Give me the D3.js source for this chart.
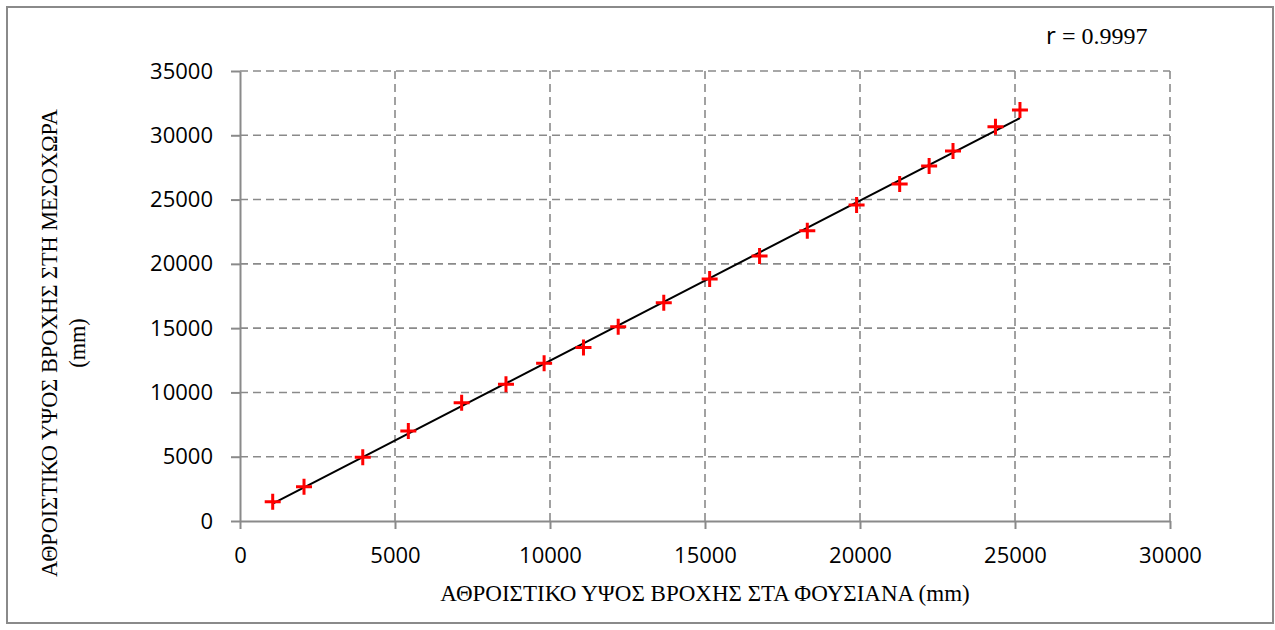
<!DOCTYPE html>
<html>
<head>
<meta charset="utf-8">
<script src="https://cdn.jsdelivr.net/npm/d3@7"></script>
<style>
  body { margin: 0; background: #fff; }
  svg { display: block; }
</style>
</head>
<body>
<svg id="chart" width="1275" height="630"></svg>
<script>
// cumulative rainfall, Fousiana (x) vs Mesochora (y), mm
const fousiana = [1055, 2065, 3960, 5430, 7150, 8580, 9810, 11080, 12200, 13670, 15150, 16760, 18300, 19890, 21280, 22230, 23000, 24370, 25160];
const mesochora = [1500, 2670, 4950, 7000, 9200, 10630, 12260, 13500, 15110, 16980, 18820, 20610, 22580, 24570, 26210, 27610, 28770, 30660, 31960];
const xTicks = [0, 5000, 10000, 15000, 20000, 25000, 30000];
const yTicks = [0, 5000, 10000, 15000, 20000, 25000, 30000, 35000];
const rLabel = '0.9997';

const width = 1275;
const height = 630;
const margin = { top: 71, right: 105, bottom: 109, left: 240 };
const innerWidth = width - margin.left - margin.right;
const innerHeight = height - margin.top - margin.bottom;

const svg = d3.select('#chart');

// outer frame
svg.append('rect')
  .attr('x', 7).attr('y', 7)
  .attr('width', 1266).attr('height', 616)
  .attr('fill', 'white')
  .attr('stroke', '#8a8a8a')
  .attr('stroke-width', 2);

const g = svg.append('g')
  .attr('transform', `translate(${margin.left},${margin.top})`);

const xScale = d3.scaleLinear().domain([0, 30000]).range([0, innerWidth]);
const yScale = d3.scaleLinear().domain([0, 35000]).range([innerHeight, 0]);

// dashed grid
g.append('g')
  .selectAll('line')
  .data(yTicks.slice(1))
  .join('line')
  .attr('x1', 0).attr('x2', innerWidth)
  .attr('y1', d => yScale(d)).attr('y2', d => yScale(d))
  .attr('stroke', '#8a8a8a')
  .attr('stroke-width', 1.6)
  .attr('stroke-dasharray', '8,5');

g.append('g')
  .selectAll('line')
  .data(xTicks.slice(1))
  .join('line')
  .attr('x1', d => xScale(d)).attr('x2', d => xScale(d))
  .attr('y1', 0).attr('y2', innerHeight)
  .attr('stroke', '#8a8a8a')
  .attr('stroke-width', 1.6)
  .attr('stroke-dasharray', '8,5');

// axes
const xAxis = g.append('g')
  .attr('transform', `translate(0,${innerHeight})`)
  .call(d3.axisBottom(xScale).tickValues(xTicks).tickSize(8).tickSizeOuter(0).tickPadding(18).tickFormat(d3.format('d')));

const yAxis = g.append('g')
  .call(d3.axisLeft(yScale).tickValues(yTicks).tickSize(9).tickSizeOuter(0).tickPadding(18).tickFormat(d3.format('d')));

[xAxis, yAxis].forEach(ax => {
  ax.select('.domain').attr('stroke', '#8a8a8a').attr('stroke-width', 2);
  ax.selectAll('.tick line').attr('stroke', '#8a8a8a').attr('stroke-width', 2);
  ax.selectAll('text')
    .attr('fill', '#000')
    .attr('font-family', '"Open Sans", sans-serif')
    .attr('font-size', '22px');
});

// least squares trend line
const n = fousiana.length;
const mx = d3.mean(fousiana);
const my = d3.mean(mesochora);
let sxy = 0, sxx = 0;
for (let i = 0; i < n; i++) {
  sxy += (fousiana[i] - mx) * (mesochora[i] - my);
  sxx += (fousiana[i] - mx) ** 2;
}
const slope = sxy / sxx;
const intercept = my - slope * mx;
const x0 = d3.min(fousiana), x1 = d3.max(fousiana);

g.append('line')
  .attr('x1', xScale(x0)).attr('y1', yScale(intercept + slope * x0))
  .attr('x2', xScale(x1)).attr('y2', yScale(intercept + slope * x1))
  .attr('stroke', '#000')
  .attr('stroke-width', 2);

// red plus markers
const pts = fousiana.map((x, i) => ({ x, y: mesochora[i] }));
g.selectAll('path.pt')
  .data(pts)
  .join('path')
  .attr('class', 'pt')
  .attr('transform', d => `translate(${xScale(d.x)},${yScale(d.y)})`)
  .attr('d', 'M-8,0H8M0,-8V8')
  .attr('stroke', '#ff0000')
  .attr('stroke-width', 3)
  .attr('fill', 'none');

// axis titles
svg.append('text')
  .attr('x', margin.left + innerWidth / 2)
  .attr('y', 601)
  .attr('text-anchor', 'middle')
  .attr('font-family', '"Liberation Serif", serif')
  .attr('font-size', '23px')
  .text('ΑΘΡΟΙΣΤΙΚΟ ΥΨΟΣ ΒΡΟΧΗΣ ΣΤΑ ΦΟΥΣΙΑΝΑ (mm)');

const yTitle = svg.append('text')
  .attr('transform', 'translate(57,343) rotate(-90)')
  .attr('text-anchor', 'middle')
  .attr('font-family', '"Liberation Serif", serif')
  .attr('font-size', '22.3px');
yTitle.append('tspan').attr('x', 0).attr('y', 0).text('ΑΘΡΟΙΣΤΙΚΟ ΥΨΟΣ ΒΡΟΧΗΣ ΣΤΗ ΜΕΣΟΧΩΡΑ');
yTitle.append('tspan').attr('x', 0).attr('y', 28).text('(mm)');

// correlation label
const rText = svg.append('text')
  .attr('x', 1046)
  .attr('y', 44)
  .attr('font-size', '24px');
rText.append('tspan').attr('font-family', '"Open Sans", sans-serif').text('r ');
rText.append('tspan').attr('font-family', '"Liberation Serif", serif').text('= ' + rLabel);
</script>
</body>
</html>
